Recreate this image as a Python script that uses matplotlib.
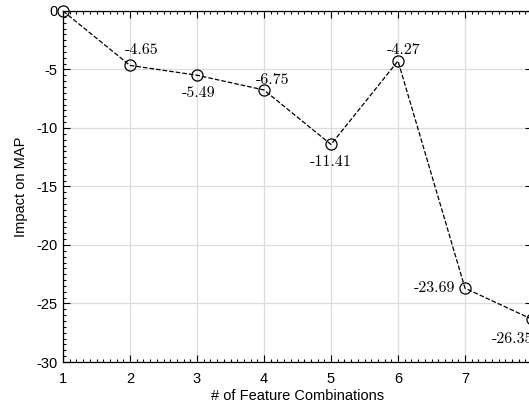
import numpy as np
import matplotlib.pyplot as plt
from matplotlib.ticker import MultipleLocator

# data
combos = [1, 2, 3, 4, 5, 6, 7, 8]
impact = [0, -4.65, -5.49, -6.75, -11.41, -4.27, -23.69, -26.35]
labels = ["-4.65", "-5.49", "-6.75", "-11.41", "-4.27", "-23.69", "-26.35"]
# label offsets in points (dx, dy) and alignment
offsets = [(-4, 6, 'left', 'bottom'),
           (1, -8, 'center', 'top'),
           (-6, 2, 'left', 'bottom'),
           (0, -8, 'center', 'top'),
           (-8, 3, 'left', 'bottom'),
           (-7, 0, 'right', 'center'),
           (-14, -9, 'center', 'top')]

plt.rcParams['font.family'] = ['Liberation Sans', 'DejaVu Sans']
plt.rcParams['axes.unicode_minus'] = False

fig = plt.figure(figsize=(5.29, 4.08), dpi=100)
ax = fig.add_axes([63 / 529, 1 - 362 / 408, (532 - 63) / 529, (362 - 11) / 408])

ax.plot(combos, impact, linestyle='--', color='black', linewidth=0.9,
        marker='o', markersize=8, markerfacecolor='none',
        markeredgecolor='black', markeredgewidth=0.9, clip_on=False, zorder=3)

for x, y, lab, (dx, dy, ha, va) in zip(combos[1:], impact[1:], labels, offsets):
    ax.annotate(lab, (x, y), xytext=(dx, dy), textcoords='offset points',
                ha=ha, va=va, fontsize=11.5, family='cmr10', annotation_clip=False)

ax.set_xlim(1, 8)
ax.set_ylim(-30, 0)
ax.set_xticks(combos)
ax.set_yticks(np.arange(-30, 1, 5))
ax.xaxis.set_minor_locator(MultipleLocator(0.1))
ax.yaxis.set_minor_locator(MultipleLocator(0.5))
ax.tick_params(which='both', direction='in', top=True, right=True,
               labelsize=10.5, width=0.8, colors='black')
ax.tick_params(which='major', length=5)
ax.tick_params(which='minor', length=2.5)
ax.tick_params(axis='x', pad=7)
ax.tick_params(axis='y', pad=4)
ax.grid(True, which='major', color='#dcdcdc', linewidth=0.9)
ax.set_axisbelow(True)
for s in ax.spines.values():
    s.set_linewidth(0.9)

ax.set_xlabel("# of Feature Combinations", fontsize=10.5, labelpad=2)
ax.set_ylabel("Impact on MAP", fontsize=10.5, labelpad=6)

fig.savefig("out.png", dpi=100)
